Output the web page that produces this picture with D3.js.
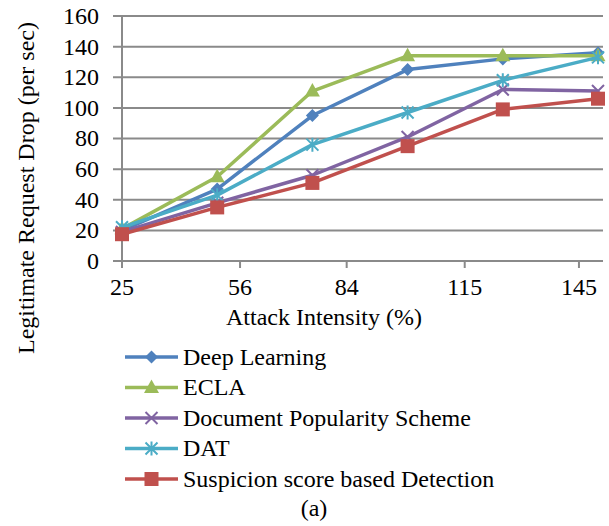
<!DOCTYPE html>
<html><head><meta charset="utf-8">
<script src="https://cdn.jsdelivr.net/npm/d3@7"></script>
<style>body{margin:0;background:#fff}svg{display:block}</style>
</head><body><svg id="c" width="609" height="526"></svg>
<script>
const xValues = [25, 50, 75, 100, 125, 150];
const xTickLabels = [25, 56, 84, 115, 145];
const yTicks = [0, 20, 40, 60, 80, 100, 120, 140, 160];
const seriesNames = ["Deep Learning", "ECLA", "Document Popularity Scheme", "DAT", "Suspicion score based Detection"];
const deepLearning = [20, 47, 95, 125, 132, 136];
const ecla = [21, 55, 111, 134, 134, 134];
const docPopularity = [19, 38, 56, 81, 112, 111];
const dat = [22, 43, 76, 97, 118, 133];
const suspicion = [17.5, 35, 51, 75, 99, 106];
const seriesValues = [deepLearning, ecla, docPopularity, dat, suspicion];
const colors = ["#4F81BD", "#9BBB59", "#8064A2", "#4BACC6", "#C0504D"];
const markers = ["diamond", "triangle", "x", "star", "square"];

const FONT = '"Liberation Serif"';
const svg = d3.select("#c");
const x = d3.scaleLinear().domain([25, 150]).range([122, 598]);
const y = d3.scaleLinear().domain([0, 160]).range([261, 16]);
const gridColor = "#8A8A8A";

svg.append("g").selectAll("line").data(yTicks).join("line")
  .attr("x1", 113).attr("x2", 603)
  .attr("y1", d => y(d)).attr("y2", d => y(d))
  .attr("stroke", gridColor).attr("stroke-width", 2);

svg.append("line").attr("x1", x(25)).attr("x2", x(25)).attr("y1", y(160)).attr("y2", y(0) + 7)
  .attr("stroke", gridColor).attr("stroke-width", 2);

svg.append("g").selectAll("text").data(yTicks).join("text")
  .attr("x", 99).attr("y", d => y(d)).attr("dy", "0.33em")
  .attr("text-anchor", "end").attr("font-size", 24).style("font-family", FONT).text(d => d);

svg.append("g").selectAll("line").data(xTickLabels).join("line")
  .attr("x1", d => x(d)).attr("x2", d => x(d)).attr("y1", y(0)).attr("y2", y(0) + 7)
  .attr("stroke", gridColor).attr("stroke-width", 2);
svg.append("g").selectAll("text").data(xTickLabels).join("text")
  .attr("x", d => x(d)).attr("y", 295)
  .attr("text-anchor", "middle").attr("font-size", 24).style("font-family", FONT).text(d => d);

svg.append("text").attr("x", 324).attr("y", 325).attr("text-anchor", "middle")
  .attr("font-size", 24).style("font-family", FONT).text("Attack Intensity (%)");
svg.append("text").attr("transform", "translate(34,188) rotate(-90)").attr("text-anchor", "middle")
  .attr("font-size", 24).style("font-family", FONT).text("Legitimate Request Drop (per sec)");

function drawMarker(g, type, cx, cy, color) {
  if (type === "diamond") {
    const s = 6.5;
    g.append("path").attr("d", `M${cx},${cy-s}L${cx+s},${cy}L${cx},${cy+s}L${cx-s},${cy}Z`).attr("fill", color);
  } else if (type === "triangle") {
    g.append("path").attr("d", `M${cx},${cy-8}L${cx+7.5},${cy+5.5}L${cx-7.5},${cy+5.5}Z`).attr("fill", color);
  } else if (type === "square") {
    g.append("rect").attr("x", cx - 7).attr("y", cy - 7).attr("width", 14).attr("height", 14).attr("fill", color);
  } else if (type === "x") {
    const s = 6;
    g.append("path").attr("d", `M${cx-s},${cy-s}L${cx+s},${cy+s}M${cx-s},${cy+s}L${cx+s},${cy-s}`)
      .attr("stroke", color).attr("stroke-width", 2);
  } else if (type === "star") {
    const s = 6;
    g.append("path").attr("d", `M${cx-s},${cy-s}L${cx+s},${cy+s}M${cx-s},${cy+s}L${cx+s},${cy-s}M${cx},${cy-s-1}L${cx},${cy+s+1}`)
      .attr("stroke", color).attr("stroke-width", 2);
  }
}

const line = d3.line().x((d, i) => x(xValues[i])).y(d => y(d));
seriesValues.forEach((vals, k) => {
  const g = svg.append("g");
  g.append("path").attr("d", line(vals)).attr("fill", "none")
    .attr("stroke", colors[k]).attr("stroke-width", 3.5).attr("stroke-linejoin", "round");
  vals.forEach((v, i) => drawMarker(g, markers[k], x(xValues[i]), y(v), colors[k]));
});

const legend = svg.append("g");
seriesNames.forEach((name, k) => {
  const cy = 357 + k * 30.5;
  legend.append("line").attr("x1", 125).attr("x2", 178).attr("y1", cy).attr("y2", cy)
    .attr("stroke", colors[k]).attr("stroke-width", 3.5);
  drawMarker(legend, markers[k], 151.5, cy, colors[k]);
  legend.append("text").attr("x", 183).attr("y", cy).attr("dy", "0.33em")
    .attr("font-size", 24).style("font-family", FONT).text(name);
});

svg.append("text").attr("x", 314).attr("y", 516).attr("text-anchor", "middle")
  .attr("font-size", 24).style("font-family", FONT).text("(a)");
</script></body></html>
